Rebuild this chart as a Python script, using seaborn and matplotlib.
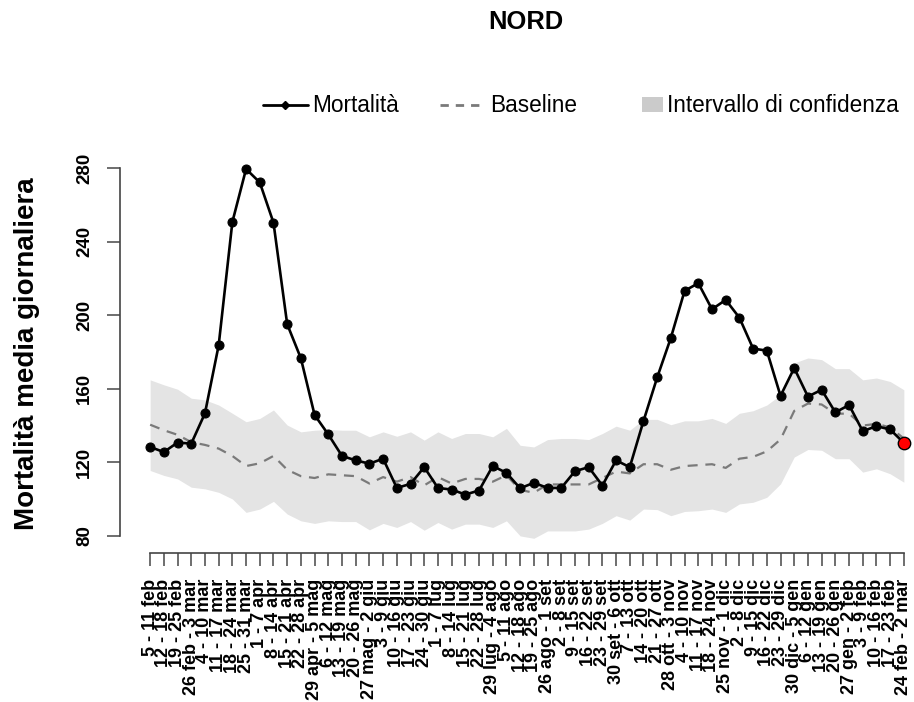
import pandas as pd
import matplotlib.pyplot as plt
import seaborn as sns
from matplotlib.lines import Line2D
from matplotlib.patches import Patch, Rectangle
from matplotlib.legend_handler import HandlerPatch

# ─── Data ────────────────────────────────────────────────────────────────────

settimane = [
    "5 - 11 feb", "12 - 18 feb", "19 - 25 feb", "26 feb - 3 mar", "4 - 10 mar",
    "11 - 17 mar", "18 - 24 mar", "25 - 31 mar", "1 - 7 apr", "8 - 14 apr",
    "15 - 21 apr", "22 - 28 apr", "29 apr - 5 mag", "6 - 12 mag", "13 - 19 mag",
    "20 - 26 mag", "27 mag - 2 giu", "3 - 9 giu", "10 - 16 giu", "17 - 23 giu",
    "24 - 30 giu", "1 - 7 lug", "8 - 14 lug", "15 - 21 lug", "22 - 28 lug",
    "29 lug - 4 ago", "5 - 11 ago", "12 - 18 ago", "19 - 25 ago", "26 ago - 1 set",
    "2 - 8 set", "9 - 15 set", "16 - 22 set", "23 - 29 set", "30 set - 6 ott",
    "7 - 13 ott", "14 - 20 ott", "21 - 27 ott", "28 ott - 3 nov", "4 - 10 nov",
    "11 - 17 nov", "18 - 24 nov", "25 nov - 1 dic", "2 - 8 dic", "9 - 15 dic",
    "16 - 22 dic", "23 - 29 dic", "30 dic - 5 gen", "6 - 12 gen", "13 - 19 gen",
    "20 - 26 gen", "27 gen - 2 feb", "3 - 9 feb", "10 - 16 feb", "17 - 23 feb",
    "24 feb - 2 mar",
]

mortalita = [
    128.4, 125.6, 130.8, 130.2, 146.7, 183.7, 250.8, 279.6, 272.3, 250.4,
    195.2, 176.6, 145.8, 135.2, 123.5, 121.1, 119.3, 122.0, 106.1, 108.3,
    117.4, 106.1, 105.2, 102.5, 104.7, 118.0, 114.3, 105.9, 108.9, 106.1,
    106.1, 115.2, 117.4, 107.4, 121.1, 117.4, 142.5, 166.2, 187.8, 213.3,
    217.5, 203.3, 208.4, 198.7, 181.9, 180.8, 156.2, 171.3, 155.8, 159.5,
    147.2, 151.2, 137.0, 139.7, 137.9, 130.6,
]

baseline = [
    140.5, 137.5, 135.0, 131.0, 129.5, 127.5, 123.5, 118.0, 119.5, 123.5,
    116.0, 112.5, 111.5, 113.5, 113.0, 112.5, 108.5, 112.0, 109.5, 112.0,
    107.5, 112.0, 108.5, 111.0, 111.0, 109.5, 113.0, 105.0, 103.5, 108.0,
    108.0, 108.0, 108.0, 111.5, 115.0, 114.0, 119.0, 119.0, 116.0, 118.0,
    118.5, 119.0, 117.0, 122.0, 123.0, 126.0, 132.5, 148.0, 152.0, 151.5,
    146.5, 146.5, 140.0, 141.0, 139.0, 133.0,
]

ic_sup = [
    164.9, 162.2, 159.8, 154.9, 154.0, 151.2, 146.7, 142.1, 143.9, 148.5,
    140.3, 136.6, 137.5, 137.9, 137.5, 137.5, 133.9, 136.6, 134.2, 136.6,
    132.1, 136.6, 133.0, 135.7, 135.7, 133.9, 138.5, 129.3, 128.4, 132.4,
    133.0, 133.0, 132.4, 135.7, 139.7, 137.5, 143.4, 143.4, 140.5, 142.6,
    142.6, 143.9, 141.2, 146.7, 148.1, 151.2, 156.7, 174.1, 176.8, 175.9,
    171.0, 171.0, 164.9, 165.9, 164.0, 159.5,
]

ic_inf = [
    115.6, 112.9, 111.0, 106.5, 105.6, 103.7, 100.1, 92.8, 94.6, 98.8,
    91.9, 88.2, 86.8, 88.2, 87.8, 87.8, 83.3, 86.8, 84.6, 87.8,
    83.1, 87.3, 83.7, 86.4, 86.4, 84.6, 88.2, 80.0, 78.7, 82.7,
    82.7, 82.7, 83.7, 86.8, 91.0, 88.6, 94.6, 94.3, 91.0, 93.3,
    93.7, 94.6, 92.8, 97.4, 98.3, 101.0, 108.3, 122.9, 127.0, 126.6,
    122.0, 122.0, 114.7, 116.5, 113.8, 109.2,
]

y_ticks = [80, 120, 160, 200, 240, 280]


# R-like legend fill box: small square sitting right next to the text
def square_right(legend, orig_handle, xdescent, ydescent, width, height, fontsize):
    return Rectangle((width - xdescent - 15, height / 2 - ydescent - 5.5), 15, 11)


# ─── Plot ─────────────────────────────────────────────────────────────────────

sns.set_style("white")
plt.rcParams["font.family"] = ["Liberation Sans", "DejaVu Sans"]
plt.rcParams["text.color"] = "black"

df = pd.DataFrame({
    "pos": range(1, len(settimane) + 1),
    "settimana": settimane,
    "mortalita": mortalita,
    "baseline": baseline,
    "ic_sup": ic_sup,
    "ic_inf": ic_inf,
})

W, H = 914, 702
fig = plt.figure(figsize=(W / 100, H / 100), dpi=100)
# R-style plot region (4% padding on both axes)
ax = fig.add_axes([120 / W, (H - 553) / H, 814 / W, (553 - 154.3) / H])

ax.fill_between(df["pos"], df["ic_inf"], df["ic_sup"], color="#e4e4e4", lw=0, zorder=1)
sns.lineplot(data=df, x="pos", y="baseline", ax=ax, color="#7a7a7a", lw=1.6,
             legend=False, zorder=2)
ax.lines[-1].set_dashes((4.5, 3.5))
sns.lineplot(data=df, x="pos", y="mortalita", ax=ax, color="black", lw=1.9,
             marker="o", markersize=6.5, markeredgecolor="black", legend=False, zorder=3)
sns.scatterplot(data=df.tail(1), x="pos", y="mortalita", ax=ax, color="red",
                edgecolor="black", linewidth=1, s=80, legend=False, zorder=4)

ax.set_xlim(1 - 0.04 * 55, 56 + 0.04 * 55)
ax.set_ylim(70.7, 287.6)

for s in ["top", "right"]:
    ax.spines[s].set_visible(False)
ax.spines["left"].set_bounds(80, 280)
ax.spines["bottom"].set_bounds(1, 56)
for s in ["left", "bottom"]:
    ax.spines[s].set_color("#444444")
    ax.spines[s].set_linewidth(1.2)

ax.set_xticks(df["pos"])
ax.set_xticklabels(settimane, rotation=90, fontsize=13, fontweight="bold")
ax.set_yticks(y_ticks)
ax.set_yticklabels([str(v) for v in y_ticks], rotation=90, va="center",
                   fontsize=13.5, fontweight="bold")
ax.tick_params(axis="both", direction="out", length=9.4, width=1.2,
               color="#555555", labelcolor="black", bottom=True, left=True)
ax.tick_params(axis="x", pad=9)
ax.tick_params(axis="y", pad=10)

ax.set_xlabel("")
ax.set_ylabel("Mortalità media giornaliera", fontsize=20, fontweight="bold",
              color="black")
ax.yaxis.set_label_coords(-0.098, 0.5)

fig.text(526 / W, 1 - 22 / H, "NORD", ha="center", va="center",
         fontsize=18.4, fontweight="bold")

ic_handle = Patch(facecolor="#cbcbcb", edgecolor="none")
handles = [
    Line2D([], [], color="black", lw=2, marker="D", markersize=4),
    Line2D([], [], color="#7a7a7a", lw=2, dashes=(3, 2.5)),
    ic_handle,
]
fig.legend(handles, ["Mortalità", "Baseline", "Intervallo di confidenza"],
           loc="center", bbox_to_anchor=(581 / W, 1 - 106 / H), ncol=3,
           frameon=False, fontsize=16.3, handlelength=2.0, handletextpad=0.2,
           columnspacing=1.8,
           handler_map={ic_handle: HandlerPatch(patch_func=square_right)})

fig.savefig("out.png", dpi=100)
